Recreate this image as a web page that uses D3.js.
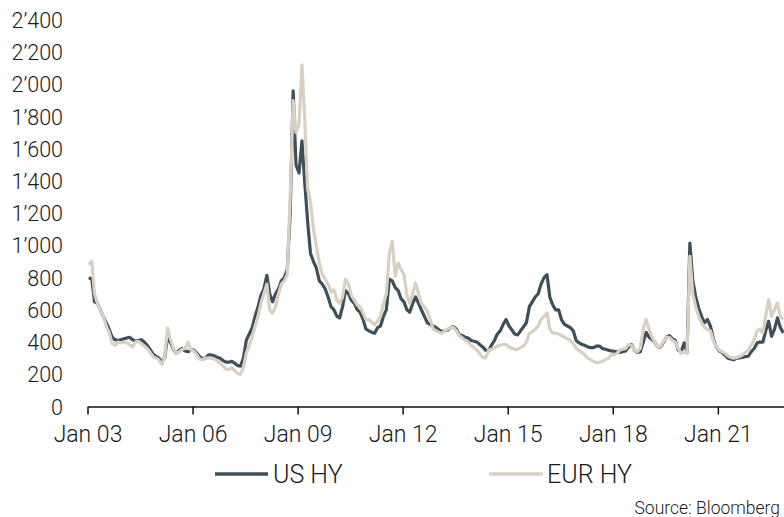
<!DOCTYPE html>
<html>
<head>
<meta charset="utf-8">
<script src="https://cdn.jsdelivr.net/npm/d3@7"></script>
<style>
  html, body { margin: 0; padding: 0; background: #fff; }
  svg text { font-family: "Roboto", "Liberation Sans", Arial, sans-serif; font-weight: 300; fill: #1a1a1a; }
</style>
</head>
<body>
<svg id="chart" width="784" height="517"></svg>
<script>
// ---- Data (monthly, mid-month readings, Jan 2003 .. Nov 2022) ----
const startYear = 2003;
const usHY = [
  800, 790, 650, 640, 600, 560, 520, 480, 430, 415, 410, 415,   // 2003
  420, 425, 430, 415, 405, 410, 415, 400, 380, 355, 325, 312,   // 2004
  300, 275, 300, 430, 400, 355, 330, 350, 360, 345, 340, 350,   // 2005
  350, 330, 310, 295, 300, 320, 320, 315, 305, 300, 285, 275,   // 2006
  275, 280, 270, 255, 250, 300, 410, 450, 490, 560, 620, 690,   // 2007
  730, 815, 700, 650, 700, 730, 780, 800, 850, 1200, 1960, 1500,// 2008
  1450, 1650, 1400, 1150, 950, 900, 860, 780, 760, 730, 680, 620,// 2009
  600, 560, 550, 620, 720, 700, 660, 640, 600, 585, 540, 480,   // 2010
  470, 460, 455, 490, 500, 560, 600, 790, 780, 740, 720, 670,   // 2011
  650, 600, 585, 640, 680, 640, 600, 560, 520, 510, 500, 490,   // 2012
  475, 465, 470, 475, 490, 495, 480, 445, 440, 430, 425, 410,   // 2013
  405, 400, 385, 370, 350, 345, 380, 410, 450, 470, 510, 540,   // 2014
  500, 475, 450, 445, 470, 495, 520, 620, 650, 680, 700, 760,   // 2015
  800, 819, 680, 630, 600, 600, 540, 510, 500, 490, 470, 410,   // 2016
  395, 385, 380, 370, 365, 365, 375, 375, 360, 355, 350, 345,   // 2017
  343, 340, 335, 340, 345, 370, 385, 350, 335, 340, 400, 460,   // 2018
  430, 415, 400, 370, 370, 400, 430, 440, 420, 410, 350, 340,   // 2019
  395, 335, 1015, 780, 680, 610, 560, 520, 540, 500, 420, 370,  // 2020
  345, 335, 320, 300, 295, 290, 300, 302, 305, 310, 312, 340,   // 2021
  360, 395, 400, 400, 470, 529, 436, 480, 550, 490, 457         // 2022
];
const eurHY = [
  880, 900, 700, 640, 600, 560, 500, 460, 390, 380, 400, 395,   // 2003
  400, 395, 385, 370, 400, 405, 390, 375, 360, 335, 310, 300,   // 2004
  290, 262, 300, 488, 420, 360, 330, 340, 355, 360, 400, 350,   // 2005
  345, 320, 295, 290, 300, 300, 300, 295, 285, 270, 250, 232,   // 2006
  230, 240, 225, 205, 200, 240, 330, 380, 430, 500, 560, 640,   // 2007
  700, 760, 600, 580, 620, 700, 760, 780, 820, 1300, 1900, 1700,// 2008
  1750, 2121, 1800, 1350, 1270, 1100, 1000, 890, 820, 790, 760, 710,// 2009
  725, 660, 640, 680, 788, 760, 690, 660, 630, 620, 580, 540,   // 2010
  540, 520, 510, 530, 560, 640, 700, 950, 1025, 810, 891, 850,  // 2011
  820, 690, 640, 700, 767, 700, 640, 620, 590, 540, 480, 470,   // 2012
  460, 455, 470, 480, 490, 490, 470, 440, 425, 410, 400, 380,   // 2013
  365, 350, 330, 305, 300, 350, 355, 365, 375, 380, 385, 385,   // 2014
  370, 360, 355, 355, 365, 375, 400, 455, 465, 480, 500, 540,   // 2015
  560, 581, 480, 457, 455, 450, 440, 430, 420, 410, 390, 365,   // 2016
  345, 335, 320, 300, 290, 280, 272, 275, 281, 290, 300, 320,   // 2017
  322, 330, 350, 355, 360, 385, 380, 350, 340, 360, 480, 540,   // 2018
  480, 430, 400, 370, 375, 405, 430, 430, 410, 400, 360, 330,   // 2019
  340, 330, 932, 700, 620, 560, 520, 490, 480, 470, 410, 370,   // 2020
  350, 340, 330, 315, 305, 300, 305, 310, 320, 335, 353, 380,   // 2021
  415, 470, 480, 457, 560, 664, 560, 600, 643, 560, 540         // 2022
];
const yTicks = [0, 200, 400, 600, 800, 1000, 1200, 1400, 1600, 1800, 2000, 2200, 2400];
const xTickYears = [2003, 2006, 2009, 2012, 2015, 2018, 2021];
const seriesNames = ["US HY", "EUR HY"];
const seriesColors = ["#3e4f58", "#d8d1c3"];
const sourceText = "Source: Bloomberg";

// ---- Scales ----
const svg = d3.select("#chart");
const x = d3.scaleTime()
  .domain([new Date(2003, 0, 1), new Date(2022, 10, 22)])
  .range([87.5, 784]);
const y = d3.scaleLinear().domain([0, 2400]).range([406.5, 20]);

const dates = usHY.map((_, i) => new Date(startYear, i, 15));
const series = [usHY, eurHY];

// ---- Y labels ----
const loc = d3.formatLocale({ decimal: ".", thousands: "\u2019", grouping: [3], currency: ["", ""] });
const fmt = loc.format(",");
const yAxis = d3.axisLeft(y).tickValues(yTicks).tickFormat(fmt).tickSize(0).tickPadding(0);
const gy = svg.append("g").attr("transform", "translate(63,0)").call(yAxis);
gy.select(".domain").remove();
gy.attr("font-family", null).attr("font-size", null);
gy.selectAll("text").attr("font-size", 21.5).attr("dy", "0.35em");

// ---- Lines ----
const line = d3.line().x((d, i) => x(dates[i])).y(d => y(d));
series.forEach((s, k) => {
  svg.append("path").datum(s)
    .attr("fill", "none")
    .attr("stroke", seriesColors[k])
    .attr("stroke-width", 3.2)
    .attr("stroke-linejoin", "round")
    .attr("d", line);
});

// ---- X axis ----
const xAxis = d3.axisBottom(x)
  .tickValues(xTickYears.map(yr => new Date(yr, 0, 1)))
  .tickFormat(d3.timeFormat("Jan %y"))
  .tickSizeInner(8).tickSizeOuter(0).tickPadding(11);
const gx = svg.append("g").attr("transform", "translate(0,406.5)").call(xAxis);
gx.attr("font-family", null).attr("font-size", null);
gx.select(".domain").attr("stroke", "#111").attr("stroke-width", 1.5);
gx.selectAll(".tick line").attr("stroke", "#111").attr("stroke-width", 1.5);
gx.selectAll("text").attr("font-size", 23).attr("fill", "#1a1a1a");

// ---- Legend ----
const legendItems = [{ x1: 215, x2: 268, tx: 273 }, { x1: 489, x2: 543, tx: 547 }];
legendItems.forEach((it, k) => {
  svg.append("line").attr("x1", it.x1).attr("x2", it.x2).attr("y1", 474).attr("y2", 474)
    .attr("stroke", seriesColors[k]).attr("stroke-width", 3.5);
  svg.append("text").attr("x", it.tx).attr("y", 482.5)
    .attr("font-size", 25).text(seriesNames[k]);
});

// ---- Source ----
svg.append("text").attr("x", 780).attr("y", 514)
  .attr("text-anchor", "end").attr("font-size", 17.5).text(sourceText);
</script>
</body>
</html>
